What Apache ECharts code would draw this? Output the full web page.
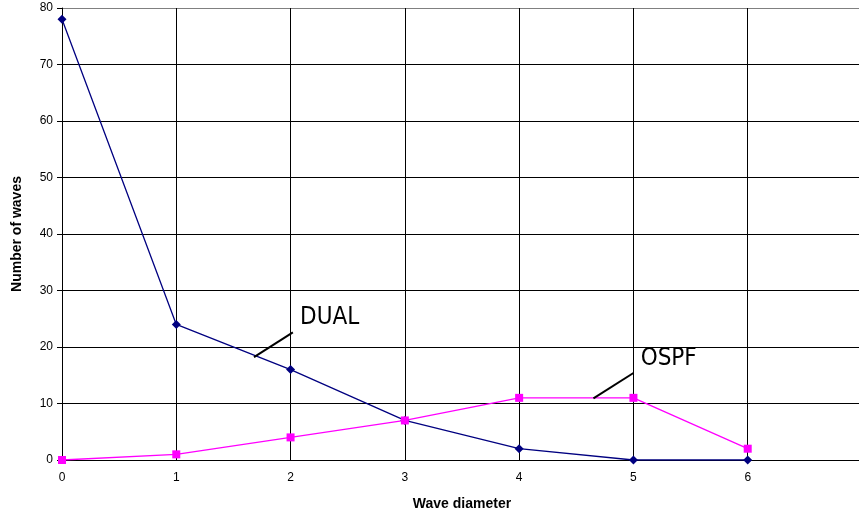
<!DOCTYPE html>
<html>
<head>
<meta charset="utf-8">
<script src="https://cdn.jsdelivr.net/npm/echarts@6/dist/echarts.min.js"></script>
<style>
  html, body { margin: 0; padding: 0; background: #fff; }
  #chart { width: 859px; height: 516px; }
</style>
</head>
<body>
<div id="chart"></div>
<script>
const diameters = [0, 1, 2, 3, 4, 5, 6];
const dualWaves = [78, 24, 16, 7, 2, 0, 0];
const ospfWaves = [0, 1, 4, 7, 11, 11, 2];

// leader lines for the series labels, in data units
const dualLeader = [[1.68, 18.2], [2.02, 22.6]];
const ospfLeader = [[4.65, 10.9], [5.0, 15.4]];

const chart = echarts.init(document.getElementById('chart'));

const pairs = (xs, ys) => xs.map((x, i) => [x, ys[i]]);

const leader = (pts, text) => ({
    silent: true,
    symbol: 'none',
    animation: false,
    lineStyle: { color: '#000', width: 2, type: 'solid' },
    label: {
        show: true,
        position: 'end',
        formatter: text,
        fontFamily: 'DejaVu Sans Condensed',
        fontSize: 24,
        color: '#000',
        align: 'left',
        verticalAlign: 'bottom',
        padding: [0, 0, 0, 3]
    },
    data: [[{ coord: pts[0] }, { coord: pts[1] }]]
});

chart.setOption({
    animation: false,
    grid: { left: 62, top: 8, width: 800, height: 452, containLabel: false, outerBoundsMode: 'none' },
    xAxis: {
        type: 'value',
        min: 0,
        max: 7,
        interval: 1,
        name: 'Wave diameter',
        nameLocation: 'middle',
        nameGap: 37,
        nameTextStyle: { fontFamily: 'Liberation Sans', fontWeight: 'bold', fontSize: 14, color: '#000' },
        axisLine: { lineStyle: { color: '#000', width: 1 } },
        axisTick: { show: false },
        axisLabel: {
            fontFamily: 'Liberation Sans', fontSize: 12, color: '#000', margin: 12,
            formatter: v => (v <= 6 ? String(v) : '')
        },
        splitLine: { show: true, lineStyle: { color: '#000', width: 1 } }
    },
    yAxis: {
        type: 'value',
        min: 0,
        max: 80,
        interval: 10,
        name: 'Number of waves',
        nameLocation: 'middle',
        nameGap: 38,
        nameTextStyle: { fontFamily: 'Liberation Sans', fontWeight: 'bold', fontSize: 14, color: '#000' },
        axisLine: { show: true, lineStyle: { color: '#000', width: 1 } },
        axisTick: { show: true, length: 5, lineStyle: { color: '#000' } },
        axisLabel: { fontFamily: 'Liberation Sans', fontSize: 12, color: '#000', margin: 9 },
        splitLine: {
            show: true,
            lineStyle: { color: ['#000', '#000', '#000', '#000', '#000', '#000', '#000', '#000', '#808080'], width: 1 }
        }
    },
    series: [
        {
            name: 'DUAL',
            type: 'line',
            data: pairs(diameters, dualWaves),
            symbol: 'diamond',
            symbolSize: 9,
            itemStyle: { color: '#000080' },
            lineStyle: { color: '#000080', width: 1.3 },
            markLine: leader(dualLeader, 'DUAL')
        },
        {
            name: 'OSPF',
            type: 'line',
            data: pairs(diameters, ospfWaves),
            symbol: 'rect',
            symbolSize: 8,
            itemStyle: { color: '#ff00ff' },
            lineStyle: { color: '#ff00ff', width: 1.3 },
            markLine: leader(ospfLeader, 'OSPF')
        }
    ]
});
</script>
</body>
</html>
